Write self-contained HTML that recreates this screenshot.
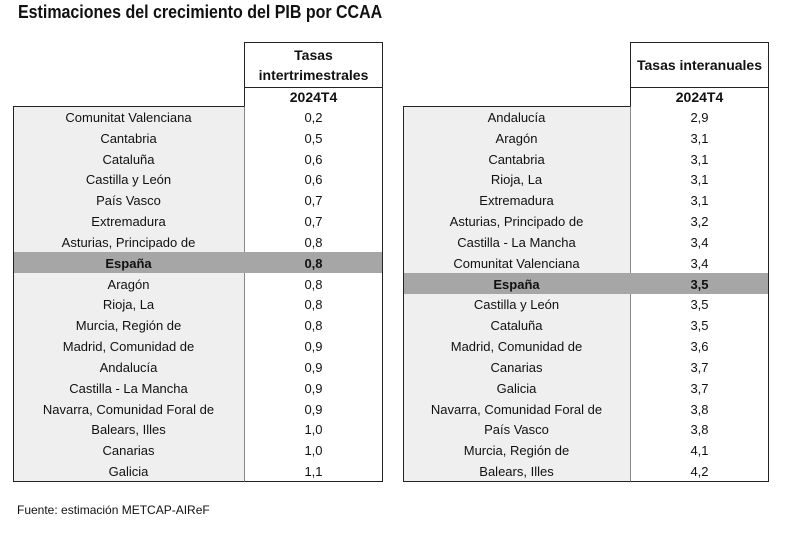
<!DOCTYPE html>
<html><head><meta charset="utf-8"><style>
*{margin:0;padding:0;box-sizing:border-box}
body{width:796px;height:540px;background:#fff;position:relative;overflow:hidden;font-family:"Liberation Sans",Arial,sans-serif;color:#111}
.abs{position:absolute}
.title{left:18px;top:2px;font-size:18px;font-weight:bold;white-space:nowrap;transform:scaleX(0.888);transform-origin:left top;color:#111}
.lab{background:#efefef;border-left:1px solid #222;border-bottom:1px solid #222;border-top:1px solid #222;border-right:1px solid #888}
.val{border:1px solid #222;background:#fff}
.hl{height:1px;background:#222}
.row{height:20.83px;line-height:20.83px;text-align:center;font-size:13px;white-space:nowrap}
.esp{background:#a6a6a6}
.b{font-weight:bold}
.hdr{font-size:14px;font-weight:bold;text-align:center;color:#111}
.foot{left:17px;top:503px;font-size:12px;color:#111}
</style></head><body>
<div class="abs title">Estimaciones del crecimiento del PIB por CCAA</div>

<!-- Left table -->
<div class="abs val" style="left:244px;top:42px;width:139px;height:440px"></div>
<div class="abs lab" style="left:13px;top:106px;width:232px;height:376px"></div>
<div class="abs hl" style="left:244px;top:87px;width:139px"></div>
<div class="abs hdr" style="left:244px;top:45px;width:139px;line-height:20px">Tasas<br>intertrimestrales</div>
<div class="abs hdr" style="left:244px;top:88px;width:139px;line-height:18px">2024T4</div>
<div class="abs esp" style="left:14px;top:252px;width:368px;height:20.8px"></div>

<div class="abs" style="left:13px;top:108px;width:231px">
<div class="row">Comunitat Valenciana</div>
<div class="row">Cantabria</div>
<div class="row">Cataluña</div>
<div class="row">Castilla y León</div>
<div class="row">País Vasco</div>
<div class="row">Extremadura</div>
<div class="row">Asturias, Principado de</div>
<div class="row b">España</div>
<div class="row">Aragón</div>
<div class="row">Rioja, La</div>
<div class="row">Murcia, Región de</div>
<div class="row">Madrid, Comunidad de</div>
<div class="row">Andalucía</div>
<div class="row">Castilla - La Mancha</div>
<div class="row">Navarra, Comunidad Foral de</div>
<div class="row">Balears, Illes</div>
<div class="row">Canarias</div>
<div class="row">Galicia</div>
</div>
<div class="abs" style="left:244px;top:108px;width:139px">
<div class="row">0,2</div>
<div class="row">0,5</div>
<div class="row">0,6</div>
<div class="row">0,6</div>
<div class="row">0,7</div>
<div class="row">0,7</div>
<div class="row">0,8</div>
<div class="row b">0,8</div>
<div class="row">0,8</div>
<div class="row">0,8</div>
<div class="row">0,8</div>
<div class="row">0,9</div>
<div class="row">0,9</div>
<div class="row">0,9</div>
<div class="row">0,9</div>
<div class="row">1,0</div>
<div class="row">1,0</div>
<div class="row">1,1</div>
</div>

<!-- Right table -->
<div class="abs val" style="left:630px;top:42px;width:139px;height:440px"></div>
<div class="abs lab" style="left:403px;top:106px;width:228px;height:376px"></div>
<div class="abs hl" style="left:630px;top:87px;width:139px"></div>
<div class="abs hdr" style="left:630px;top:55px;width:139px;line-height:20px">Tasas interanuales</div>
<div class="abs hdr" style="left:630px;top:88px;width:139px;line-height:18px">2024T4</div>
<div class="abs esp" style="left:404px;top:273px;width:364px;height:20.8px"></div>

<div class="abs" style="left:403px;top:108px;width:227px">
<div class="row">Andalucía</div>
<div class="row">Aragón</div>
<div class="row">Cantabria</div>
<div class="row">Rioja, La</div>
<div class="row">Extremadura</div>
<div class="row">Asturias, Principado de</div>
<div class="row">Castilla - La Mancha</div>
<div class="row">Comunitat Valenciana</div>
<div class="row b">España</div>
<div class="row">Castilla y León</div>
<div class="row">Cataluña</div>
<div class="row">Madrid, Comunidad de</div>
<div class="row">Canarias</div>
<div class="row">Galicia</div>
<div class="row">Navarra, Comunidad Foral de</div>
<div class="row">País Vasco</div>
<div class="row">Murcia, Región de</div>
<div class="row">Balears, Illes</div>
</div>
<div class="abs" style="left:630px;top:108px;width:139px">
<div class="row">2,9</div>
<div class="row">3,1</div>
<div class="row">3,1</div>
<div class="row">3,1</div>
<div class="row">3,1</div>
<div class="row">3,2</div>
<div class="row">3,4</div>
<div class="row">3,4</div>
<div class="row b">3,5</div>
<div class="row">3,5</div>
<div class="row">3,5</div>
<div class="row">3,6</div>
<div class="row">3,7</div>
<div class="row">3,7</div>
<div class="row">3,8</div>
<div class="row">3,8</div>
<div class="row">4,1</div>
<div class="row">4,2</div>
</div>

<div class="abs foot">Fuente: estimación METCAP-AIReF</div>
</body></html>
